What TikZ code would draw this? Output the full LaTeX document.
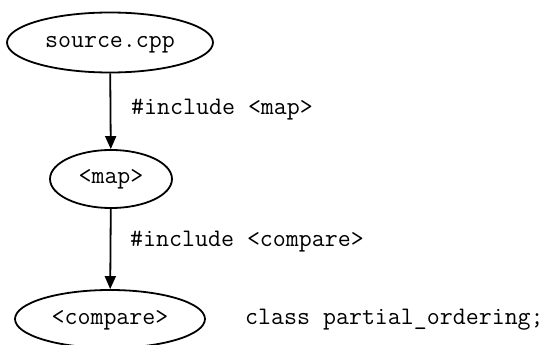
\documentclass[tikz,border=0pt]{standalone}
\usepackage{fontspec}
\usetikzlibrary{shapes.geometric,arrows.meta}
\tikzset{
  code/.style={font=\ttfamily\fontsize{25.2}{30}\selectfont, text=black,
    text height=10pt, text depth=0pt, inner sep=0pt},
  header/.style={code, ellipse, draw, line width=1.8pt, inner sep=0pt},
  edgelabel/.style={code, anchor=west},
  include/.style={line width=1.8pt, -{Triangle[length=13pt,width=11pt]}}
}
\begin{document}
\begin{tikzpicture}[x=1pt,y=-1pt]
  \useasboundingbox (0,0) rectangle (550,345);
  \begin{scope}
    \clip (0,0) rectangle (550,345);
    \node[header, minimum width=206pt, minimum height=60pt] (src) at (110,42.5) {source.cpp};
    \node[header, minimum width=122pt, minimum height=58pt] (map) at (111,179) {<map>};
    \node[header, minimum width=190pt, minimum height=58pt] (cmp) at (110,319) {<compare>};
    \draw[include] (src) -- (map);
    \draw[include] (map) -- (cmp);
    \node[edgelabel] (l1) at (131,110) {\#include <map>};
    \node[edgelabel] (l2) at (130,242) {\#include <compare>};
    \node[edgelabel] (cls) at (245,319) {class partial\_ordering;};
  \end{scope}
\end{tikzpicture}
\end{document}
